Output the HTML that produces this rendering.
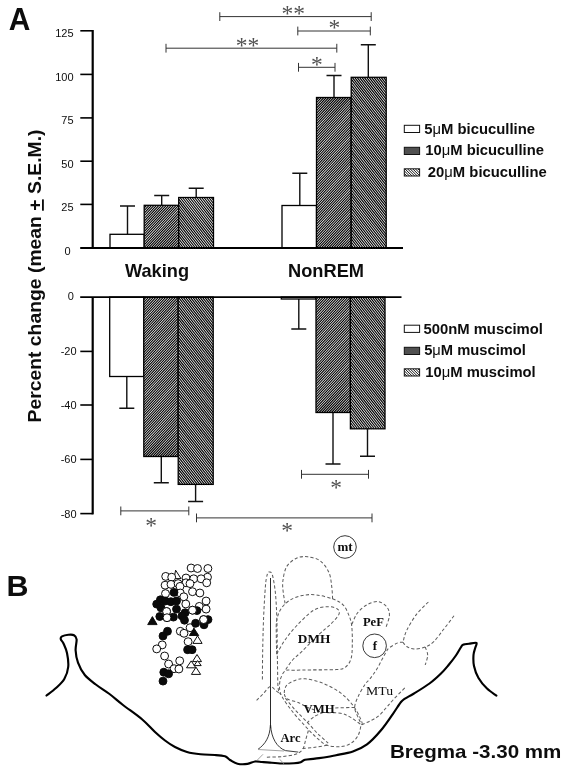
<!DOCTYPE html>
<html><head><meta charset="utf-8"><title>Figure</title>
<style>
html,body{margin:0;padding:0;background:#fff;}
svg{display:block;will-change:transform;}
text{font-family:"Liberation Sans", sans-serif;fill:#0d0d0d;}
.b{font-weight:bold;}
.s{font-family:"Liberation Serif", serif;}
.ax{stroke:#000;stroke-width:2.2;fill:none;stroke-linecap:butt;}
.tk{stroke:#000;stroke-width:1.6;fill:none;}
.bar{stroke:#000;stroke-width:1.3;}
.err{stroke:#111;stroke-width:1.4;fill:none;}
.br{stroke:#333;stroke-width:1;fill:none;}
.d{stroke:#5c5c5c;stroke-width:1.02;fill:none;stroke-dasharray:3.2 2.2;}
.oc{fill:#fff;stroke:#000;stroke-width:0.95;}
.fc{fill:#0a0a0a;stroke:#0a0a0a;stroke-width:0.95;}
.ot{fill:#fff;stroke:#000;stroke-width:0.95;stroke-linejoin:miter;}
.ft{fill:#0a0a0a;stroke:#0a0a0a;stroke-width:0.95;}
</style></head><body>
<svg width="567" height="771" viewBox="0 0 567 771">
<defs>
</defs>
<rect width="567" height="771" fill="#fff"/>

<text x="8.8" y="30.1" font-size="30.5" text-anchor="start" class="b" textLength="21.6" lengthAdjust="spacingAndGlyphs">A</text>
<text x="6.4" y="595.7" font-size="30" text-anchor="start" class="b" textLength="22" lengthAdjust="spacingAndGlyphs">B</text>
<line class="ax" x1="92.7" y1="30" x2="92.7" y2="248.0"/>
<line class="ax" x1="92.7" y1="297.1" x2="92.7" y2="514.4"/>
<line class="tk" x1="80.3" y1="30.8" x2="92.7" y2="30.8"/>
<text x="73.6" y="37.2" font-size="11" text-anchor="end">125</text>
<line class="tk" x1="80.3" y1="74.4" x2="92.7" y2="74.4"/>
<text x="73.6" y="80.8" font-size="11" text-anchor="end">100</text>
<line class="tk" x1="80.3" y1="117.9" x2="92.7" y2="117.9"/>
<text x="73.6" y="124.3" font-size="11" text-anchor="end">75</text>
<line class="tk" x1="80.3" y1="161.2" x2="92.7" y2="161.2"/>
<text x="73.6" y="167.6" font-size="11" text-anchor="end">50</text>
<line class="tk" x1="80.3" y1="204.4" x2="92.7" y2="204.4"/>
<text x="73.6" y="210.8" font-size="11" text-anchor="end">25</text>
<text x="70.6" y="254.5" font-size="11" text-anchor="end">0</text>
<line class="tk" x1="80.3" y1="351.4" x2="92.7" y2="351.4"/>
<text x="76.6" y="355.3" font-size="11" text-anchor="end">-20</text>
<line class="tk" x1="80.3" y1="405.0" x2="92.7" y2="405.0"/>
<text x="76.6" y="408.9" font-size="11" text-anchor="end">-40</text>
<line class="tk" x1="80.3" y1="459.4" x2="92.7" y2="459.4"/>
<text x="76.6" y="463.3" font-size="11" text-anchor="end">-60</text>
<line class="tk" x1="80.3" y1="513.6" x2="92.7" y2="513.6"/>
<text x="76.6" y="517.5" font-size="11" text-anchor="end">-80</text>
<text x="73.9" y="300.1" font-size="11" text-anchor="end">0</text>
<text transform="translate(41,422.5) rotate(-90)" font-size="18.5" class="b" textLength="293" lengthAdjust="spacingAndGlyphs">Percent change (mean <tspan text-decoration="underline">+</tspan> S.E.M.)</text>
<path class="err" d="M127.5 234.3V206.0M120.0 206.0H135.0"/>
<path class="err" d="M161.7 205.3V195.5M154.2 195.5H169.2"/>
<path class="err" d="M196.2 197.5V188.3M188.7 188.3H203.7"/>
<rect class="bar" x="110" y="234.3" width="34.20" height="13.70" fill="#fff"/>
<clipPath id="c1"><rect x="144.2" y="205.3" width="34.50" height="42.70"/></clipPath>
<rect x="144.2" y="205.3" width="34.50" height="42.70" fill="#fff"/>
<path d="M144.20 205.30L104.38 248.00M146.66 205.30L106.84 248.00M149.12 205.30L109.30 248.00M151.58 205.30L111.76 248.00M154.04 205.30L114.22 248.00M156.50 205.30L116.68 248.00M158.96 205.30L119.14 248.00M161.42 205.30L121.60 248.00M163.88 205.30L124.06 248.00M166.34 205.30L126.52 248.00M168.80 205.30L128.98 248.00M171.26 205.30L131.44 248.00M173.72 205.30L133.90 248.00M176.18 205.30L136.36 248.00M178.64 205.30L138.82 248.00M181.10 205.30L141.28 248.00M183.56 205.30L143.74 248.00M186.02 205.30L146.20 248.00M188.48 205.30L148.66 248.00M190.94 205.30L151.12 248.00M193.40 205.30L153.58 248.00M195.86 205.30L156.04 248.00M198.32 205.30L158.50 248.00M200.78 205.30L160.96 248.00M203.24 205.30L163.42 248.00M205.70 205.30L165.88 248.00M208.16 205.30L168.34 248.00M210.62 205.30L170.80 248.00M213.08 205.30L173.26 248.00M215.54 205.30L175.72 248.00M218.00 205.30L178.18 248.00M220.46 205.30L180.64 248.00" clip-path="url(#c1)" stroke="#000" stroke-width="1.1" fill="none"/>
<rect class="bar" x="144.2" y="205.3" width="34.50" height="42.70" fill="none"/>
<clipPath id="c2"><rect x="178.7" y="197.5" width="34.80" height="50.50"/></clipPath>
<rect x="178.7" y="197.5" width="34.80" height="50.50" fill="#fff"/>
<path d="M136.85 197.50L176.30 248.00M139.25 197.50L178.70 248.00M141.65 197.50L181.10 248.00M144.05 197.50L183.50 248.00M146.45 197.50L185.90 248.00M148.85 197.50L188.30 248.00M151.25 197.50L190.70 248.00M153.65 197.50L193.10 248.00M156.05 197.50L195.50 248.00M158.45 197.50L197.90 248.00M160.85 197.50L200.30 248.00M163.25 197.50L202.70 248.00M165.65 197.50L205.10 248.00M168.05 197.50L207.50 248.00M170.45 197.50L209.90 248.00M172.85 197.50L212.30 248.00M175.25 197.50L214.70 248.00M177.65 197.50L217.10 248.00M180.05 197.50L219.50 248.00M182.45 197.50L221.90 248.00M184.85 197.50L224.30 248.00M187.25 197.50L226.70 248.00M189.65 197.50L229.10 248.00M192.05 197.50L231.50 248.00M194.45 197.50L233.90 248.00M196.85 197.50L236.30 248.00M199.25 197.50L238.70 248.00M201.65 197.50L241.10 248.00M204.05 197.50L243.50 248.00M206.45 197.50L245.90 248.00M208.85 197.50L248.30 248.00M211.25 197.50L250.70 248.00M213.65 197.50L253.10 248.00" clip-path="url(#c2)" stroke="#000" stroke-width="1.16" fill="none"/>
<rect class="bar" x="178.7" y="197.5" width="34.80" height="50.50" fill="none"/>
<path class="err" d="M299.8 205.5V173.3M292.3 173.3H307.3"/>
<path class="err" d="M334 97.5V75.5M326.5 75.5H341.5"/>
<path class="err" d="M368.3 77.3V44.8M360.8 44.8H375.8"/>
<rect class="bar" x="282" y="205.5" width="34.50" height="42.50" fill="#fff"/>
<clipPath id="c3"><rect x="316.5" y="97.5" width="34.70" height="150.50"/></clipPath>
<rect x="316.5" y="97.5" width="34.70" height="150.50" fill="#fff"/>
<path d="M316.50 97.50L176.16 248.00M318.96 97.50L178.62 248.00M321.42 97.50L181.08 248.00M323.88 97.50L183.54 248.00M326.34 97.50L186.00 248.00M328.80 97.50L188.46 248.00M331.26 97.50L190.92 248.00M333.72 97.50L193.38 248.00M336.18 97.50L195.84 248.00M338.64 97.50L198.30 248.00M341.10 97.50L200.76 248.00M343.56 97.50L203.22 248.00M346.02 97.50L205.68 248.00M348.48 97.50L208.14 248.00M350.94 97.50L210.60 248.00M353.40 97.50L213.06 248.00M355.86 97.50L215.52 248.00M358.32 97.50L217.98 248.00M360.78 97.50L220.44 248.00M363.24 97.50L222.90 248.00M365.70 97.50L225.36 248.00M368.16 97.50L227.82 248.00M370.62 97.50L230.28 248.00M373.08 97.50L232.74 248.00M375.54 97.50L235.20 248.00M378.00 97.50L237.66 248.00M380.46 97.50L240.12 248.00M382.92 97.50L242.58 248.00M385.38 97.50L245.04 248.00M387.84 97.50L247.50 248.00M390.30 97.50L249.96 248.00M392.76 97.50L252.42 248.00M395.22 97.50L254.88 248.00M397.68 97.50L257.34 248.00M400.14 97.50L259.80 248.00M402.60 97.50L262.26 248.00M405.06 97.50L264.72 248.00M407.52 97.50L267.18 248.00M409.98 97.50L269.64 248.00M412.44 97.50L272.10 248.00M414.90 97.50L274.56 248.00M417.36 97.50L277.02 248.00M419.82 97.50L279.48 248.00M422.28 97.50L281.94 248.00M424.74 97.50L284.40 248.00M427.20 97.50L286.86 248.00M429.66 97.50L289.32 248.00M432.12 97.50L291.78 248.00M434.58 97.50L294.24 248.00M437.04 97.50L296.70 248.00M439.50 97.50L299.16 248.00M441.96 97.50L301.62 248.00M444.42 97.50L304.08 248.00M446.88 97.50L306.54 248.00M449.34 97.50L309.00 248.00M451.80 97.50L311.46 248.00M454.26 97.50L313.92 248.00M456.72 97.50L316.38 248.00M459.18 97.50L318.84 248.00M461.64 97.50L321.30 248.00M464.10 97.50L323.76 248.00M466.56 97.50L326.22 248.00M469.02 97.50L328.68 248.00M471.48 97.50L331.14 248.00M473.94 97.50L333.60 248.00M476.40 97.50L336.06 248.00M478.86 97.50L338.52 248.00M481.32 97.50L340.98 248.00M483.78 97.50L343.44 248.00M486.24 97.50L345.90 248.00M488.70 97.50L348.36 248.00M491.16 97.50L350.82 248.00M493.62 97.50L353.28 248.00" clip-path="url(#c3)" stroke="#000" stroke-width="1.1" fill="none"/>
<rect class="bar" x="316.5" y="97.5" width="34.70" height="150.50" fill="none"/>
<clipPath id="c4"><rect x="351.2" y="77.3" width="35.00" height="170.70"/></clipPath>
<rect x="351.2" y="77.3" width="35.00" height="170.70" fill="#fff"/>
<path d="M215.43 77.30L348.80 248.00M217.83 77.30L351.20 248.00M220.23 77.30L353.60 248.00M222.63 77.30L356.00 248.00M225.03 77.30L358.40 248.00M227.43 77.30L360.80 248.00M229.83 77.30L363.20 248.00M232.23 77.30L365.60 248.00M234.63 77.30L368.00 248.00M237.03 77.30L370.40 248.00M239.43 77.30L372.80 248.00M241.83 77.30L375.20 248.00M244.23 77.30L377.60 248.00M246.63 77.30L380.00 248.00M249.03 77.30L382.40 248.00M251.43 77.30L384.80 248.00M253.83 77.30L387.20 248.00M256.23 77.30L389.60 248.00M258.63 77.30L392.00 248.00M261.03 77.30L394.40 248.00M263.43 77.30L396.80 248.00M265.83 77.30L399.20 248.00M268.23 77.30L401.60 248.00M270.63 77.30L404.00 248.00M273.03 77.30L406.40 248.00M275.43 77.30L408.80 248.00M277.83 77.30L411.20 248.00M280.23 77.30L413.60 248.00M282.63 77.30L416.00 248.00M285.03 77.30L418.40 248.00M287.43 77.30L420.80 248.00M289.83 77.30L423.20 248.00M292.23 77.30L425.60 248.00M294.63 77.30L428.00 248.00M297.03 77.30L430.40 248.00M299.43 77.30L432.80 248.00M301.83 77.30L435.20 248.00M304.23 77.30L437.60 248.00M306.63 77.30L440.00 248.00M309.03 77.30L442.40 248.00M311.43 77.30L444.80 248.00M313.83 77.30L447.20 248.00M316.23 77.30L449.60 248.00M318.63 77.30L452.00 248.00M321.03 77.30L454.40 248.00M323.43 77.30L456.80 248.00M325.83 77.30L459.20 248.00M328.23 77.30L461.60 248.00M330.63 77.30L464.00 248.00M333.03 77.30L466.40 248.00M335.43 77.30L468.80 248.00M337.83 77.30L471.20 248.00M340.23 77.30L473.60 248.00M342.63 77.30L476.00 248.00M345.03 77.30L478.40 248.00M347.43 77.30L480.80 248.00M349.83 77.30L483.20 248.00M352.23 77.30L485.60 248.00M354.63 77.30L488.00 248.00M357.03 77.30L490.40 248.00M359.43 77.30L492.80 248.00M361.83 77.30L495.20 248.00M364.23 77.30L497.60 248.00M366.63 77.30L500.00 248.00M369.03 77.30L502.40 248.00M371.43 77.30L504.80 248.00M373.83 77.30L507.20 248.00M376.23 77.30L509.60 248.00M378.63 77.30L512.00 248.00M381.03 77.30L514.40 248.00M383.43 77.30L516.80 248.00M385.83 77.30L519.20 248.00M388.23 77.30L521.60 248.00" clip-path="url(#c4)" stroke="#000" stroke-width="1.16" fill="none"/>
<rect class="bar" x="351.2" y="77.3" width="35.00" height="170.70" fill="none"/>
<path class="err" d="M126.8 376.5V408.3M119.3 408.3H134.3"/>
<path class="err" d="M161.3 456.5V482.8M153.8 482.8H168.8"/>
<path class="err" d="M195.6 484.4V501.5M188.1 501.5H203.1"/>
<rect class="bar" x="109.7" y="297.1" width="34.10" height="79.40" fill="#fff"/>
<clipPath id="c5"><rect x="143.8" y="297.1" width="34.40" height="159.40"/></clipPath>
<rect x="143.8" y="297.1" width="34.40" height="159.40" fill="#fff"/>
<path d="M143.80 297.10L-4.84 456.50M146.26 297.10L-2.38 456.50M148.72 297.10L0.08 456.50M151.18 297.10L2.54 456.50M153.64 297.10L5.00 456.50M156.10 297.10L7.46 456.50M158.56 297.10L9.92 456.50M161.02 297.10L12.38 456.50M163.48 297.10L14.84 456.50M165.94 297.10L17.30 456.50M168.40 297.10L19.76 456.50M170.86 297.10L22.22 456.50M173.32 297.10L24.68 456.50M175.78 297.10L27.14 456.50M178.24 297.10L29.60 456.50M180.70 297.10L32.06 456.50M183.16 297.10L34.52 456.50M185.62 297.10L36.98 456.50M188.08 297.10L39.44 456.50M190.54 297.10L41.90 456.50M193.00 297.10L44.36 456.50M195.46 297.10L46.82 456.50M197.92 297.10L49.28 456.50M200.38 297.10L51.74 456.50M202.84 297.10L54.20 456.50M205.30 297.10L56.66 456.50M207.76 297.10L59.12 456.50M210.22 297.10L61.58 456.50M212.68 297.10L64.04 456.50M215.14 297.10L66.50 456.50M217.60 297.10L68.96 456.50M220.06 297.10L71.42 456.50M222.52 297.10L73.88 456.50M224.98 297.10L76.34 456.50M227.44 297.10L78.80 456.50M229.90 297.10L81.26 456.50M232.36 297.10L83.72 456.50M234.82 297.10L86.18 456.50M237.28 297.10L88.64 456.50M239.74 297.10L91.10 456.50M242.20 297.10L93.56 456.50M244.66 297.10L96.02 456.50M247.12 297.10L98.48 456.50M249.58 297.10L100.94 456.50M252.04 297.10L103.40 456.50M254.50 297.10L105.86 456.50M256.96 297.10L108.32 456.50M259.42 297.10L110.78 456.50M261.88 297.10L113.24 456.50M264.34 297.10L115.70 456.50M266.80 297.10L118.16 456.50M269.26 297.10L120.62 456.50M271.72 297.10L123.08 456.50M274.18 297.10L125.54 456.50M276.64 297.10L128.00 456.50M279.10 297.10L130.46 456.50M281.56 297.10L132.92 456.50M284.02 297.10L135.38 456.50M286.48 297.10L137.84 456.50M288.94 297.10L140.30 456.50M291.40 297.10L142.76 456.50M293.86 297.10L145.22 456.50M296.32 297.10L147.68 456.50M298.78 297.10L150.14 456.50M301.24 297.10L152.60 456.50M303.70 297.10L155.06 456.50M306.16 297.10L157.52 456.50M308.62 297.10L159.98 456.50M311.08 297.10L162.44 456.50M313.54 297.10L164.90 456.50M316.00 297.10L167.36 456.50M318.46 297.10L169.82 456.50M320.92 297.10L172.28 456.50M323.38 297.10L174.74 456.50M325.84 297.10L177.20 456.50M328.30 297.10L179.66 456.50" clip-path="url(#c5)" stroke="#000" stroke-width="1.1" fill="none"/>
<rect class="bar" x="143.8" y="297.1" width="34.40" height="159.40" fill="none"/>
<clipPath id="c6"><rect x="178.2" y="297.1" width="35.00" height="187.30"/></clipPath>
<rect x="178.2" y="297.1" width="35.00" height="187.30" fill="#fff"/>
<path d="M29.47 297.10L175.80 484.40M31.87 297.10L178.20 484.40M34.27 297.10L180.60 484.40M36.67 297.10L183.00 484.40M39.07 297.10L185.40 484.40M41.47 297.10L187.80 484.40M43.87 297.10L190.20 484.40M46.27 297.10L192.60 484.40M48.67 297.10L195.00 484.40M51.07 297.10L197.40 484.40M53.47 297.10L199.80 484.40M55.87 297.10L202.20 484.40M58.27 297.10L204.60 484.40M60.67 297.10L207.00 484.40M63.07 297.10L209.40 484.40M65.47 297.10L211.80 484.40M67.87 297.10L214.20 484.40M70.27 297.10L216.60 484.40M72.67 297.10L219.00 484.40M75.07 297.10L221.40 484.40M77.47 297.10L223.80 484.40M79.87 297.10L226.20 484.40M82.27 297.10L228.60 484.40M84.67 297.10L231.00 484.40M87.07 297.10L233.40 484.40M89.47 297.10L235.80 484.40M91.87 297.10L238.20 484.40M94.27 297.10L240.60 484.40M96.67 297.10L243.00 484.40M99.07 297.10L245.40 484.40M101.47 297.10L247.80 484.40M103.87 297.10L250.20 484.40M106.27 297.10L252.60 484.40M108.67 297.10L255.00 484.40M111.07 297.10L257.40 484.40M113.47 297.10L259.80 484.40M115.87 297.10L262.20 484.40M118.27 297.10L264.60 484.40M120.67 297.10L267.00 484.40M123.07 297.10L269.40 484.40M125.47 297.10L271.80 484.40M127.87 297.10L274.20 484.40M130.27 297.10L276.60 484.40M132.67 297.10L279.00 484.40M135.07 297.10L281.40 484.40M137.47 297.10L283.80 484.40M139.87 297.10L286.20 484.40M142.27 297.10L288.60 484.40M144.67 297.10L291.00 484.40M147.07 297.10L293.40 484.40M149.47 297.10L295.80 484.40M151.87 297.10L298.20 484.40M154.27 297.10L300.60 484.40M156.67 297.10L303.00 484.40M159.07 297.10L305.40 484.40M161.47 297.10L307.80 484.40M163.87 297.10L310.20 484.40M166.27 297.10L312.60 484.40M168.67 297.10L315.00 484.40M171.07 297.10L317.40 484.40M173.47 297.10L319.80 484.40M175.87 297.10L322.20 484.40M178.27 297.10L324.60 484.40M180.67 297.10L327.00 484.40M183.07 297.10L329.40 484.40M185.47 297.10L331.80 484.40M187.87 297.10L334.20 484.40M190.27 297.10L336.60 484.40M192.67 297.10L339.00 484.40M195.07 297.10L341.40 484.40M197.47 297.10L343.80 484.40M199.87 297.10L346.20 484.40M202.27 297.10L348.60 484.40M204.67 297.10L351.00 484.40M207.07 297.10L353.40 484.40M209.47 297.10L355.80 484.40M211.87 297.10L358.20 484.40M214.27 297.10L360.60 484.40" clip-path="url(#c6)" stroke="#000" stroke-width="1.16" fill="none"/>
<rect class="bar" x="178.2" y="297.1" width="35.00" height="187.30" fill="none"/>
<path class="err" d="M298.8 299V329M291.3 329H306.3"/>
<path class="err" d="M333 412.5V464M325.5 464H340.5"/>
<path class="err" d="M367.5 428.8V456.3M360.0 456.3H375.0"/>
<rect class="bar" x="281.3" y="297.1" width="34.70" height="1.90" fill="#fff"/>
<clipPath id="c7"><rect x="316" y="297.1" width="34.40" height="115.40"/></clipPath>
<rect x="316" y="297.1" width="34.40" height="115.40" fill="#fff"/>
<path d="M316.00 297.10L208.39 412.50M318.46 297.10L210.85 412.50M320.92 297.10L213.31 412.50M323.38 297.10L215.77 412.50M325.84 297.10L218.23 412.50M328.30 297.10L220.69 412.50M330.76 297.10L223.15 412.50M333.22 297.10L225.61 412.50M335.68 297.10L228.07 412.50M338.14 297.10L230.53 412.50M340.60 297.10L232.99 412.50M343.06 297.10L235.45 412.50M345.52 297.10L237.91 412.50M347.98 297.10L240.37 412.50M350.44 297.10L242.83 412.50M352.90 297.10L245.29 412.50M355.36 297.10L247.75 412.50M357.82 297.10L250.21 412.50M360.28 297.10L252.67 412.50M362.74 297.10L255.13 412.50M365.20 297.10L257.59 412.50M367.66 297.10L260.05 412.50M370.12 297.10L262.51 412.50M372.58 297.10L264.97 412.50M375.04 297.10L267.43 412.50M377.50 297.10L269.89 412.50M379.96 297.10L272.35 412.50M382.42 297.10L274.81 412.50M384.88 297.10L277.27 412.50M387.34 297.10L279.73 412.50M389.80 297.10L282.19 412.50M392.26 297.10L284.65 412.50M394.72 297.10L287.11 412.50M397.18 297.10L289.57 412.50M399.64 297.10L292.03 412.50M402.10 297.10L294.49 412.50M404.56 297.10L296.95 412.50M407.02 297.10L299.41 412.50M409.48 297.10L301.87 412.50M411.94 297.10L304.33 412.50M414.40 297.10L306.79 412.50M416.86 297.10L309.25 412.50M419.32 297.10L311.71 412.50M421.78 297.10L314.17 412.50M424.24 297.10L316.63 412.50M426.70 297.10L319.09 412.50M429.16 297.10L321.55 412.50M431.62 297.10L324.01 412.50M434.08 297.10L326.47 412.50M436.54 297.10L328.93 412.50M439.00 297.10L331.39 412.50M441.46 297.10L333.85 412.50M443.92 297.10L336.31 412.50M446.38 297.10L338.77 412.50M448.84 297.10L341.23 412.50M451.30 297.10L343.69 412.50M453.76 297.10L346.15 412.50M456.22 297.10L348.61 412.50M458.68 297.10L351.07 412.50" clip-path="url(#c7)" stroke="#000" stroke-width="1.1" fill="none"/>
<rect class="bar" x="316" y="297.1" width="34.40" height="115.40" fill="none"/>
<clipPath id="c8"><rect x="350.4" y="297.1" width="34.60" height="131.70"/></clipPath>
<rect x="350.4" y="297.1" width="34.60" height="131.70" fill="#fff"/>
<path d="M245.10 297.10L348.00 428.80M247.50 297.10L350.40 428.80M249.90 297.10L352.80 428.80M252.30 297.10L355.20 428.80M254.70 297.10L357.60 428.80M257.10 297.10L360.00 428.80M259.50 297.10L362.40 428.80M261.90 297.10L364.80 428.80M264.30 297.10L367.20 428.80M266.70 297.10L369.60 428.80M269.10 297.10L372.00 428.80M271.50 297.10L374.40 428.80M273.90 297.10L376.80 428.80M276.30 297.10L379.20 428.80M278.70 297.10L381.60 428.80M281.10 297.10L384.00 428.80M283.50 297.10L386.40 428.80M285.90 297.10L388.80 428.80M288.30 297.10L391.20 428.80M290.70 297.10L393.60 428.80M293.10 297.10L396.00 428.80M295.50 297.10L398.40 428.80M297.90 297.10L400.80 428.80M300.30 297.10L403.20 428.80M302.70 297.10L405.60 428.80M305.10 297.10L408.00 428.80M307.50 297.10L410.40 428.80M309.90 297.10L412.80 428.80M312.30 297.10L415.20 428.80M314.70 297.10L417.60 428.80M317.10 297.10L420.00 428.80M319.50 297.10L422.40 428.80M321.90 297.10L424.80 428.80M324.30 297.10L427.20 428.80M326.70 297.10L429.60 428.80M329.10 297.10L432.00 428.80M331.50 297.10L434.40 428.80M333.90 297.10L436.80 428.80M336.30 297.10L439.20 428.80M338.70 297.10L441.60 428.80M341.10 297.10L444.00 428.80M343.50 297.10L446.40 428.80M345.90 297.10L448.80 428.80M348.30 297.10L451.20 428.80M350.70 297.10L453.60 428.80M353.10 297.10L456.00 428.80M355.50 297.10L458.40 428.80M357.90 297.10L460.80 428.80M360.30 297.10L463.20 428.80M362.70 297.10L465.60 428.80M365.10 297.10L468.00 428.80M367.50 297.10L470.40 428.80M369.90 297.10L472.80 428.80M372.30 297.10L475.20 428.80M374.70 297.10L477.60 428.80M377.10 297.10L480.00 428.80M379.50 297.10L482.40 428.80M381.90 297.10L484.80 428.80M384.30 297.10L487.20 428.80M386.70 297.10L489.60 428.80" clip-path="url(#c8)" stroke="#000" stroke-width="1.16" fill="none"/>
<rect class="bar" x="350.4" y="297.1" width="34.60" height="131.70" fill="none"/>
<line class="ax" x1="80.2" y1="248.0" x2="403" y2="248.0" style="stroke-width:1.8"/>
<line class="ax" x1="80.2" y1="297.1" x2="401.5" y2="297.1" style="stroke-width:1.8"/>
<text x="125" y="277.3" font-size="18.5" text-anchor="start" class="b" textLength="64" lengthAdjust="spacingAndGlyphs">Waking</text>
<text x="288" y="276.6" font-size="18.5" text-anchor="start" class="b" textLength="76" lengthAdjust="spacingAndGlyphs">NonREM</text>
<path class="br" d="M219.8 12.200000000000001V21.0M219.8 16.6H371.2M371.2 12.200000000000001V21.0"/>
<path class="br" d="M297.8 26.6V35.4M297.8 31.0H370.3M370.3 26.6V35.4"/>
<path class="br" d="M166 43.800000000000004V52.6M166 48.2H336.8M336.8 43.800000000000004V52.6"/>
<path class="br" d="M298.5 62.9V71.7M298.5 67.3H335M335 62.9V71.7"/>
<path class="br" d="M120.8 506.5V515.3M120.8 510.9H188.8M188.8 506.5V515.3"/>
<path class="br" d="M196.5 513.5V522.3M196.5 517.9H372M372 513.5V522.3"/>
<path class="br" d="M301.5 469.90000000000003V478.7M301.5 474.3H368.5M368.5 469.90000000000003V478.7"/>
<text x="293.3" y="20.5" font-size="23.5" class="s" text-anchor="middle" style="fill:#505050">**</text>
<text x="334.3" y="35.0" font-size="23.5" class="s" text-anchor="middle" style="fill:#505050">*</text>
<text x="247.6" y="52.7" font-size="23.5" class="s" text-anchor="middle" style="fill:#505050">**</text>
<text x="316.9" y="72.39999999999999" font-size="23.5" class="s" text-anchor="middle" style="fill:#505050">*</text>
<text x="151.2" y="532.8000000000001" font-size="23.5" class="s" text-anchor="middle" style="fill:#505050">*</text>
<text x="287" y="537.8000000000001" font-size="23.5" class="s" text-anchor="middle" style="fill:#505050">*</text>
<text x="336" y="495.3" font-size="23.5" class="s" text-anchor="middle" style="fill:#505050">*</text>
<rect x="404.3" y="125.3" width="15.3" height="7.2" fill="#fff" stroke="#111" stroke-width="1"/>
<text x="424.2" y="134.0" font-size="14.2" class="b" textLength="110.8" lengthAdjust="spacingAndGlyphs">5<tspan font-weight="normal">μ</tspan>M bicuculline</text>
<rect x="404.3" y="147.3" width="15.3" height="7.2" fill="#505050" stroke="#111" stroke-width="1"/>
<text x="425.3" y="155.2" font-size="14.2" class="b" textLength="118.6" lengthAdjust="spacingAndGlyphs">10<tspan font-weight="normal">μ</tspan>M bicuculline</text>
<clipPath id="c9"><rect x="404.3" y="168.8" width="15.3" height="7.2"/></clipPath>
<rect x="404.3" y="168.8" width="15.3" height="7.2" fill="#fff"/>
<path d="M394.50 168.80L401.70 176.00M397.10 168.80L404.30 176.00M399.70 168.80L406.90 176.00M402.30 168.80L409.50 176.00M404.90 168.80L412.10 176.00M407.50 168.80L414.70 176.00M410.10 168.80L417.30 176.00M412.70 168.80L419.90 176.00M415.30 168.80L422.50 176.00M417.90 168.80L425.10 176.00M420.50 168.80L427.70 176.00" clip-path="url(#c9)" stroke="#111" stroke-width="1.0" fill="none"/>
<rect x="404.3" y="168.8" width="15.3" height="7.2" fill="none" stroke="#111" stroke-width="1"/>
<text x="427.8" y="176.7" font-size="14.2" class="b" textLength="119.0" lengthAdjust="spacingAndGlyphs">20<tspan font-weight="normal">μ</tspan>M bicuculline</text>
<rect x="404.3" y="325.2" width="15.3" height="7.2" fill="#fff" stroke="#111" stroke-width="1"/>
<text x="423.4" y="333.5" font-size="14.2" class="b" textLength="119.5" lengthAdjust="spacingAndGlyphs">500nM muscimol</text>
<rect x="404.3" y="347.3" width="15.3" height="7.2" fill="#505050" stroke="#111" stroke-width="1"/>
<text x="424.2" y="355.0" font-size="14.2" class="b" textLength="101.7" lengthAdjust="spacingAndGlyphs">5<tspan font-weight="normal">μ</tspan>M muscimol</text>
<clipPath id="c10"><rect x="404.3" y="368.8" width="15.3" height="7.2"/></clipPath>
<rect x="404.3" y="368.8" width="15.3" height="7.2" fill="#fff"/>
<path d="M394.50 368.80L401.70 376.00M397.10 368.80L404.30 376.00M399.70 368.80L406.90 376.00M402.30 368.80L409.50 376.00M404.90 368.80L412.10 376.00M407.50 368.80L414.70 376.00M410.10 368.80L417.30 376.00M412.70 368.80L419.90 376.00M415.30 368.80L422.50 376.00M417.90 368.80L425.10 376.00M420.50 368.80L427.70 376.00" clip-path="url(#c10)" stroke="#111" stroke-width="1.0" fill="none"/>
<rect x="404.3" y="368.8" width="15.3" height="7.2" fill="none" stroke="#111" stroke-width="1"/>
<text x="425.3" y="376.7" font-size="14.2" class="b" textLength="110.4" lengthAdjust="spacingAndGlyphs">10<tspan font-weight="normal">μ</tspan>M muscimol</text>
<path d="M46.5 695.5C48.1 694.2 53.0 690.8 56.0 688.0C59.0 685.2 62.3 682.5 64.3 679.0C66.3 675.5 67.8 671.3 68.2 667.0C68.7 662.7 67.8 656.9 67.0 653.0C66.2 649.1 64.5 645.8 63.5 643.5C62.5 641.2 61.0 640.4 60.8 639.2C60.5 638.0 60.7 637.1 62.0 636.4C63.3 635.7 66.4 635.0 68.4 634.8C70.4 634.6 72.6 634.4 74.0 635.2C75.4 636.0 76.3 636.9 76.6 639.4C76.9 641.9 75.4 646.4 75.6 650.3C75.8 654.2 76.5 658.5 78.0 662.6C79.5 666.7 81.8 671.4 84.8 675.0C87.8 678.6 91.7 681.3 95.8 684.5C99.9 687.7 105.0 690.6 109.5 694.0C114.0 697.4 117.6 700.8 123.0 705.0C128.4 709.2 136.7 714.8 142.0 719.3C147.3 723.8 151.2 728.5 155.0 732.0C158.8 735.5 161.7 738.0 165.0 740.5C168.3 743.0 171.3 745.1 175.0 747.0C178.7 748.9 182.8 750.8 187.0 752.0C191.2 753.2 195.8 753.8 200.5 754.3C205.2 754.8 210.9 754.7 215.0 755.0C219.1 755.3 222.5 755.5 225.0 756.3C227.5 757.1 227.9 758.8 230.0 760.0C232.1 761.2 234.6 763.1 237.5 763.7C240.4 764.4 244.6 764.3 247.5 763.9C250.4 763.5 252.6 761.8 255.0 761.5C257.4 761.2 259.5 761.8 262.0 762.0C264.5 762.2 266.7 762.4 270.0 762.6C273.3 762.9 278.0 763.4 282.0 763.5C286.0 763.6 290.9 763.4 294.0 763.2C297.1 763.0 298.9 762.8 300.7 762.2C302.5 761.6 302.6 760.4 305.0 759.8C307.4 759.2 311.3 759.1 315.0 758.6C318.7 758.1 323.5 757.6 327.0 757.0C330.5 756.4 331.7 756.1 336.0 755.2C340.3 754.3 347.7 753.3 352.9 751.5C358.1 749.7 362.3 747.9 367.0 744.4C371.7 740.9 376.7 735.4 381.0 730.3C385.3 725.2 389.7 718.5 393.0 713.8C396.3 709.1 399.0 704.5 401.0 702.0C403.0 699.5 402.8 700.0 405.0 698.6C407.2 697.2 409.9 696.0 414.0 693.5C418.1 691.0 425.0 686.8 429.5 683.5C434.0 680.2 437.8 676.6 441.0 673.5C444.2 670.4 446.1 668.0 448.6 665.0C451.1 662.0 453.8 658.6 455.9 655.5C458.0 652.4 460.2 648.1 461.5 646.3C462.8 644.5 462.2 645.0 463.5 644.6C464.8 644.2 466.9 644.1 469.0 643.8C471.1 643.5 475.4 642.2 476.4 642.9C477.4 643.6 475.7 646.0 475.2 648.0C474.7 650.0 473.7 652.0 473.5 655.0C473.3 658.0 473.2 662.2 474.0 666.0C474.8 669.8 476.3 674.2 478.5 678.0C480.7 681.8 484.0 685.7 487.0 688.6C490.0 691.5 494.8 694.4 496.4 695.6" fill="none" stroke="#000" stroke-width="2.15" stroke-linecap="round" stroke-linejoin="round"/>
<path d="M270.5 578V728" fill="none" stroke="#2a2a2a" stroke-width="1"/>
<path d="M270.4 725C270 737 265 744.5 258 749.3M270.6 725C271.2 738 277 747.5 285.4 750.6L298.3 752.1" fill="none" stroke="#222" stroke-width="0.9"/>
<path d="M258 749.5L284 751M263 754.3L256.6 760.8M279.6 759.3L284 763.7" fill="none" stroke="#999" stroke-width="0.9"/>
<path class="d" d="M262.4 679.4C262.4 674.5 262.5 659.9 262.7 650.0C262.9 640.1 263.1 630.6 263.5 620.0C263.9 609.4 264.8 594.1 265.4 586.4C266.0 578.7 266.7 576.4 267.4 574.0C268.1 571.6 268.8 571.8 269.6 572.0C270.4 572.2 271.4 571.7 272.4 575.0C273.3 578.3 274.6 585.4 275.3 592.0C276.0 598.6 276.4 606.6 276.7 614.6C277.0 622.6 277.1 631.6 277.2 640.0C277.3 648.4 277.3 656.9 277.5 665.0C277.7 673.1 277.6 683.9 278.2 688.8C278.8 693.7 280.5 693.6 281.0 694.6"/>
<path class="d" d="M256.6 700.3C257.7 699.2 260.7 696.3 263.0 694.0C265.3 691.7 268.1 687.1 270.3 686.6C272.5 686.1 274.2 689.5 276.0 690.8C277.8 692.1 280.2 694.0 281.1 694.6"/>
<path class="d" d="M285.1 603.4C284.8 601.5 283.6 595.8 283.2 592.0C282.8 588.2 282.3 585.0 282.9 580.8C283.5 576.6 284.4 570.5 286.6 566.7C288.9 562.9 292.9 559.9 296.4 558.2C299.9 556.6 303.7 556.3 307.7 556.8C311.7 557.3 316.9 558.4 320.4 561.0C323.9 563.6 327.0 568.1 328.9 572.3C330.8 576.5 331.1 581.9 331.7 586.4C332.3 590.9 332.5 597.0 332.6 599.1"/>
<path class="d" d="M276.7 654.2C276.6 651.2 276.3 641.6 276.3 636.0C276.3 630.4 275.9 624.8 276.7 620.3C277.5 615.8 278.8 612.3 280.9 609.0C283.0 605.7 285.9 602.8 289.4 600.5C292.9 598.2 297.5 596.4 302.0 595.5C306.5 594.6 311.0 594.3 316.2 594.9C321.4 595.5 328.6 597.5 333.1 599.1C337.6 600.8 340.4 602.2 343.0 604.8C345.6 607.4 347.2 611.1 348.6 614.6C350.1 618.1 351.1 621.0 351.7 625.9C352.3 630.8 352.4 638.5 352.3 644.0C352.2 649.5 352.2 655.0 351.0 658.9C349.8 662.8 347.5 665.7 345.0 667.5C342.5 669.3 341.8 669.2 336.0 669.6C330.2 670.0 317.6 669.8 310.5 669.9C303.4 670.0 297.8 670.1 293.6 670.3C289.4 670.4 287.6 669.4 285.4 670.8C283.2 672.2 281.6 675.7 280.6 678.7C279.6 681.7 279.3 685.7 279.6 688.8C279.9 691.9 280.3 693.6 282.5 697.4C284.7 701.2 288.8 707.0 292.6 711.8C296.4 716.6 301.4 722.0 305.3 726.2C309.2 730.4 312.4 733.9 315.9 737.0C319.4 740.1 322.3 743.4 326.4 745.0C330.5 746.6 336.4 747.0 340.5 746.7C344.6 746.4 348.2 745.1 351.1 743.2C354.1 741.3 356.6 738.2 358.2 735.3C359.8 732.4 360.5 727.2 361.0 725.6"/>
<path class="d" d="M276.7 654.0C278.1 651.7 281.7 644.7 285.0 640.0C288.3 635.3 291.7 630.9 296.4 626.0C301.1 621.1 308.2 613.6 313.4 610.4C318.6 607.2 323.5 606.9 327.5 606.7C331.5 606.5 335.4 607.7 337.3 609.0C339.2 610.3 340.0 612.0 338.8 614.6C337.6 617.2 333.6 621.2 330.3 624.5C327.0 627.8 323.7 629.9 319.0 634.4C314.3 638.9 306.4 647.0 302.0 651.3C297.6 655.6 295.4 656.9 292.6 660.0C289.8 663.1 286.6 668.3 285.4 670.0"/>
<path class="d" d="M351.9 624.3C352.8 622.4 354.8 616.5 357.3 613.2C359.9 609.9 363.7 606.5 367.2 604.6C370.7 602.7 375.0 601.2 378.3 601.6C381.6 602.0 385.0 604.6 386.9 607.0C388.8 609.4 389.6 612.2 389.4 615.7C389.2 619.2 386.3 626.0 385.7 628.0"/>
<path class="d" d="M284.3 693.1C284.2 690.8 284.9 687.4 286.8 685.2C288.7 683.1 292.4 681.3 295.5 680.2C298.6 679.1 300.7 678.3 305.3 678.8C309.9 679.3 317.0 680.9 322.9 683.2C328.8 685.6 335.5 689.2 340.5 692.9C345.5 696.6 349.6 701.2 352.9 705.3C356.1 709.4 358.5 714.4 360.0 717.6C361.5 720.8 363.2 724.7 361.7 724.7C360.2 724.7 354.6 719.5 351.1 717.6C347.6 715.7 345.2 714.1 340.5 713.2C335.8 712.3 328.2 713.2 322.9 712.3C317.6 711.4 312.9 709.5 308.8 707.9C304.7 706.3 301.9 704.0 298.3 702.5C294.8 701.0 289.8 700.6 287.5 699.0C285.2 697.4 284.4 695.4 284.3 693.1Z"/>
<path class="d" d="M285.4 698.2C287.1 700.2 291.9 706.5 295.5 710.4C299.1 714.3 303.3 718.0 307.0 721.9C310.7 725.8 314.1 730.0 317.6 733.5C321.1 737.0 326.4 741.6 328.2 743.2"/>
<path class="d" d="M307.0 722.9C308.2 721.9 311.5 718.4 314.1 716.7C316.8 715.0 321.4 713.3 322.9 712.6"/>
<path class="d" d="M308.4 730.5C307.9 732.2 306.4 737.4 305.5 740.5C304.6 743.6 304.4 747.0 302.7 749.3C301.0 751.6 298.9 753.1 295.5 754.3C292.1 755.5 286.9 756.1 282.0 756.6C277.1 757.1 268.7 757.1 266.0 757.2"/>
<path class="d" d="M302.6 748.5C304.7 748.3 310.7 747.9 315.0 747.3C319.3 746.7 326.0 745.4 328.2 745.0"/>
<path class="d" d="M403.0 642.3C402.2 642.4 400.3 641.9 398.0 642.8C395.7 643.7 391.4 646.1 389.4 647.8C387.3 649.4 387.8 649.2 385.7 652.7C383.6 656.2 379.6 664.4 377.0 668.8C374.4 673.1 372.0 676.2 370.0 678.8C368.0 681.3 367.2 681.1 365.2 684.1C363.2 687.1 359.9 692.6 358.2 696.5C356.4 700.4 354.7 703.9 354.7 707.4C354.7 710.9 357.0 714.7 358.2 717.6C359.4 720.5 361.1 723.5 361.7 724.7"/>
<path class="d" d="M361.7 724.7C363.1 724.1 367.2 722.4 370.0 721.0C372.8 719.6 375.6 718.4 378.3 716.2C381.0 714.0 383.6 710.7 386.0 708.0C388.4 705.3 389.8 703.5 393.0 700.0C396.2 696.5 403.3 689.4 405.4 687.3"/>
<path class="d" d="M335.3 707.9C338.5 707.8 351.5 707.5 354.7 707.4"/>
<path class="d" d="M428.4 602.0C426.4 604.1 420.1 609.6 416.5 614.4C412.9 619.1 408.9 625.9 406.7 630.5C404.4 635.1 403.6 640.3 403.0 642.3"/>
<path class="d" d="M454.0 615.7C452.3 618.0 447.1 625.0 443.7 629.3C440.3 633.6 436.9 638.6 433.8 641.6C430.7 644.6 428.5 645.8 425.2 647.0C421.9 648.2 417.1 649.1 414.0 649.0C410.9 648.9 408.5 647.6 406.7 646.5C404.9 645.4 403.6 643.0 403.0 642.3"/>
<path class="d" d="M425.2 647.0C425.6 648.4 427.7 652.2 427.7 655.2C427.7 658.2 425.6 663.4 425.2 665.0"/>
<circle cx="345" cy="547" r="11.3" fill="#fff" stroke="#222" stroke-width="0.9"/>
<circle cx="374.6" cy="645.8" r="11.8" fill="#fff" stroke="#222" stroke-width="0.9"/>
<text x="345" y="550.6" font-size="13" text-anchor="middle" class="s b">mt</text>
<text x="374.8" y="650.0" font-size="13" text-anchor="middle" class="s b">f</text>
<text x="297.8" y="642.9" font-size="13" text-anchor="start" class="s b" textLength="32.5" lengthAdjust="spacingAndGlyphs">DMH</text>
<text x="362.9" y="625.8" font-size="13" text-anchor="start" class="s b" textLength="21" lengthAdjust="spacingAndGlyphs">PeF</text>
<text x="303.6" y="712.9" font-size="13" text-anchor="start" class="s b" textLength="31.2" lengthAdjust="spacingAndGlyphs">VMH</text>
<text x="280.5" y="742.2" font-size="13" text-anchor="start" class="s b" textLength="20" lengthAdjust="spacingAndGlyphs">Arc</text>
<text x="366" y="694.6" font-size="13" text-anchor="start" class="s" textLength="27" lengthAdjust="spacingAndGlyphs">MTu</text>
<text x="390" y="758.3" font-size="19" text-anchor="start" class="b" textLength="171.4" lengthAdjust="spacingAndGlyphs">Bregma -3.30 mm</text>
<path class="ot" d="M175.6 570.2L181 578.6H174Z"/>
<circle class="oc" cx="191.1" cy="568.0" r="3.95"/>
<circle class="oc" cx="197.5" cy="568.5" r="3.95"/>
<circle class="oc" cx="207.9" cy="568.5" r="3.95"/>
<circle class="oc" cx="165.7" cy="576.4" r="3.95"/>
<circle class="oc" cx="171.7" cy="577.2" r="3.95"/>
<circle class="oc" cx="186.0" cy="578.0" r="3.95"/>
<circle class="oc" cx="193.7" cy="578.8" r="3.95"/>
<circle class="oc" cx="207.5" cy="577.2" r="3.95"/>
<circle class="oc" cx="201.1" cy="578.8" r="3.95"/>
<circle class="oc" cx="206.7" cy="582.8" r="3.95"/>
<circle class="oc" cx="165.1" cy="585.2" r="3.95"/>
<circle class="oc" cx="171" cy="584.4" r="3.95"/>
<circle class="oc" cx="186" cy="582.8" r="3.95"/>
<circle class="oc" cx="190" cy="583.6" r="3.95"/>
<circle class="oc" cx="178.1" cy="583.6" r="3.95"/>
<circle class="oc" cx="180" cy="586.4" r="3.95"/>
<circle class="oc" cx="192.5" cy="591.7" r="3.95"/>
<circle class="oc" cx="199.9" cy="593.0" r="3.95"/>
<circle class="oc" cx="165.5" cy="593.6" r="3.95"/>
<circle class="oc" cx="180.3" cy="593.0" r="3.95"/>
<circle class="oc" cx="183.8" cy="596.8" r="3.95"/>
<circle class="oc" cx="206.1" cy="601.0" r="3.95"/>
<circle class="oc" cx="185.8" cy="604.0" r="3.95"/>
<circle class="oc" cx="199.3" cy="606.4" r="3.95"/>
<circle class="oc" cx="206.1" cy="609.1" r="3.95"/>
<circle class="oc" cx="192.5" cy="610.2" r="3.95"/>
<circle class="oc" cx="166.6" cy="611.5" r="3.95"/>
<circle class="oc" cx="167.0" cy="617.7" r="3.95"/>
<circle class="oc" cx="203.6" cy="619.6" r="3.95"/>
<circle class="oc" cx="190.1" cy="627.7" r="3.95"/>
<circle class="oc" cx="180.3" cy="631.3" r="3.95"/>
<circle class="oc" cx="184.0" cy="633.3" r="3.95"/>
<circle class="oc" cx="188.1" cy="641.7" r="3.95"/>
<circle class="oc" cx="162.2" cy="644.9" r="3.95"/>
<circle class="oc" cx="156.7" cy="648.9" r="3.95"/>
<circle class="oc" cx="164.6" cy="656.0" r="3.95"/>
<circle class="oc" cx="179.7" cy="660.8" r="3.95"/>
<circle class="oc" cx="168.6" cy="664.0" r="3.95"/>
<circle class="oc" cx="174.1" cy="668.7" r="3.95"/>
<circle class="oc" cx="178.9" cy="669.0" r="3.95"/>
<circle class="fc" cx="174.0" cy="592.4" r="3.95"/>
<circle class="fc" cx="160.4" cy="599.8" r="3.95"/>
<circle class="fc" cx="156.7" cy="604.1" r="3.95"/>
<circle class="fc" cx="165.4" cy="601.0" r="3.95"/>
<circle class="fc" cx="170.9" cy="601.7" r="3.95"/>
<circle class="fc" cx="176.5" cy="601.0" r="3.95"/>
<circle class="fc" cx="161.0" cy="607.8" r="3.95"/>
<circle class="fc" cx="176.5" cy="609.1" r="3.95"/>
<circle class="fc" cx="159.8" cy="616.5" r="3.95"/>
<circle class="fc" cx="173.4" cy="617.1" r="3.95"/>
<circle class="fc" cx="185.1" cy="612.8" r="3.95"/>
<circle class="fc" cx="182.0" cy="615.9" r="3.95"/>
<circle class="fc" cx="184.5" cy="620.2" r="3.95"/>
<circle class="fc" cx="195.6" cy="623.3" r="3.95"/>
<circle class="fc" cx="208.0" cy="619.6" r="3.95"/>
<circle class="fc" cx="204.0" cy="624.8" r="3.95"/>
<circle class="fc" cx="167.5" cy="631.3" r="3.95"/>
<circle class="fc" cx="163.0" cy="636.0" r="3.95"/>
<circle class="fc" cx="187.6" cy="649.7" r="3.95"/>
<circle class="fc" cx="192.1" cy="649.7" r="3.95"/>
<circle class="fc" cx="163.8" cy="672.2" r="3.95"/>
<circle class="fc" cx="168.6" cy="673.8" r="3.95"/>
<circle class="fc" cx="163.0" cy="681.1" r="3.95"/>
<circle class="fc" cx="196.9" cy="610.6" r="3.95"/>
<circle class="oc" cx="166.6" cy="611.5" r="3.95"/>
<circle class="oc" cx="167.0" cy="617.7" r="3.95"/>
<circle class="oc" cx="203.6" cy="619.6" r="3.95"/>
<circle class="oc" cx="192.5" cy="610.2" r="3.95"/>
<path class="ft" d="M152.4 616.6L157.1 624.6H147.70000000000002Z"/>
<path class="ft" d="M194.0 628.3L198.7 635.5H189.3Z"/>
<path class="ot" d="M197.5 635.8L202.1 643.4H192.9Z"/>
<path class="ot" d="M197.0 654.5L201.5 661.6H192.5Z"/>
<path class="ot" d="M191.2 660.9L195.89999999999998 667.8H186.5Z"/>
<path class="ot" d="M197.6 660.6L201.2 665.6H194.0Z"/>
<path class="ot" d="M196.0 667.2L200.6 674.4H191.4Z"/>
</svg></body></html>
